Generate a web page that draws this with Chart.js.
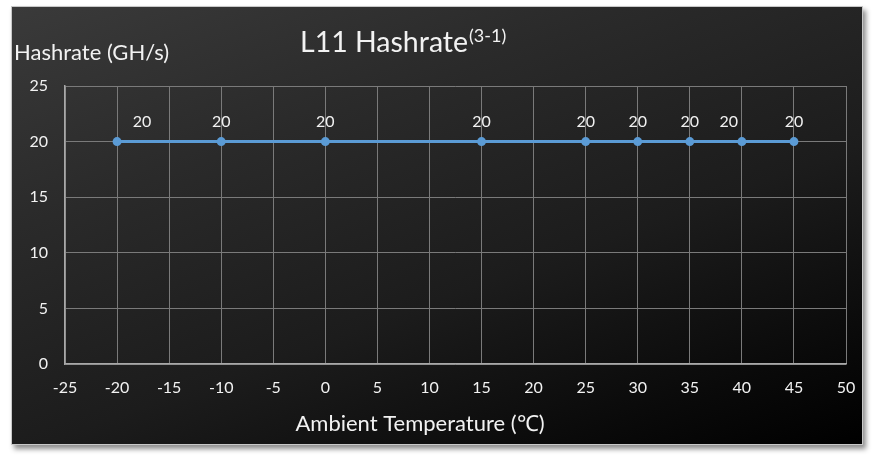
<!DOCTYPE html>
<html>
<head>
<meta charset="utf-8">
<script src="https://cdn.jsdelivr.net/npm/chart.js@4"></script>
<style>
  html, body { margin:0; padding:0; background:#fff; width:874px; height:462px; overflow:hidden; }
  #frame { position:absolute; left:11px; top:6px; width:850px; height:437px;
    border:1px solid #c8c8c8;
    background: linear-gradient(160deg, #3a3a3a 0%, #2a2a2a 30%, #1c1c1c 60%, #0a0a0a 85%, #000 100%);
    box-shadow: 3px 4px 5px rgba(0,0,0,0.45); }
  #wrap { position:absolute; left:0; top:0; width:874px; height:462px; }
</style>
</head>
<body>
<div id="frame"></div>
<div id="wrap"><canvas id="c" width="874" height="462"></canvas></div>
<script>
const temperatures = [-20, -10, 0, 15, 25, 30, 35, 40, 45];
const hashrates = [20, 20, 20, 20, 20, 20, 20, 20, 20];
const xTicks = { min: -25, max: 50, step: 5 };
const yTicks = { min: 0, max: 25, step: 5 };
const chartTitle = 'L11 Hashrate';
const chartTitleSup = '(3-1)';
const yTitle = 'Hashrate (GH/s)';
const xTitle = 'Ambient Temperature (℃)';

const FONT = 'Lato, "Open Sans", sans-serif';

const textPlugin = {
  id: 'texts',
  afterDraw(chart) {
    const ctx = chart.ctx;
    ctx.save();
    ctx.fillStyle = '#f2f2f2';
    ctx.textBaseline = 'alphabetic';
    // main title
    ctx.font = '28.5px ' + FONT;
    ctx.textAlign = 'left';
    const tx = 300;
    ctx.fillText(chartTitle, tx, 52);
    const w = ctx.measureText(chartTitle).width;
    ctx.font = '18px ' + FONT;
    ctx.fillText(chartTitleSup, tx + w + 1, 42);
    // y title
    ctx.font = '22px ' + FONT;
    ctx.fillText(yTitle, 14, 60);
    // x title
    ctx.textAlign = 'center';
    ctx.font = '22px ' + FONT;
    ctx.fillText(xTitle, 420, 431);
    ctx.restore();
  }
};

const labelPlugin = {
  id: 'pointLabels',
  afterDatasetsDraw(chart, args, opts) {
    const ctx = chart.ctx;
    const meta = chart.getDatasetMeta(0);
    const shifts = opts.shifts || {};
    ctx.save();
    ctx.fillStyle = '#f2f2f2';
    ctx.font = '16px ' + FONT;
    ctx.textAlign = 'center';
    ctx.textBaseline = 'middle';
    meta.data.forEach((pt, i) => {
      const dx = shifts[i] || 0;
      ctx.fillText(String(chart.data.datasets[0].data[i].y), pt.x + dx, pt.y - 20);
    });
    ctx.restore();
  }
};

new Chart(document.getElementById('c'), {
  type: 'line',
  data: {
    datasets: [{
      data: temperatures.map((t, i) => ({ x: t, y: hashrates[i] })),
      borderColor: '#5b9bd5',
      backgroundColor: '#5b9bd5',
      borderWidth: 3,
      pointRadius: 4.5,
      pointHoverRadius: 4.5,
      pointBorderWidth: 0,
      tension: 0,
      fill: false
    }]
  },
  options: {
    responsive: false,
    animation: false,
    events: [],
    layout: { padding: { left: 0, top: 86, right: 28, bottom: 0 } },
    plugins: {
      legend: { display: false },
      tooltip: { enabled: false },
      title: { display: false },
      pointLabels: { shifts: { 0: 25, 7: -13 } }
    },
    scales: {
      x: {
        type: 'linear',
        min: xTicks.min, max: xTicks.max,
        ticks: { stepSize: xTicks.step, color: '#f2f2f2', font: { family: FONT, size: 16 }, padding: 14, maxRotation: 0 },
        grid: { color: '#7a7a7a', lineWidth: 1, drawTicks: false },
        border: { color: '#a8a8a8', width: 1.5 },
        afterFit(s) { s.height = 98; }
      },
      y: {
        min: yTicks.min, max: yTicks.max,
        ticks: { stepSize: yTicks.step, color: '#f2f2f2', font: { family: FONT, size: 16 }, padding: 17 },
        grid: { color: '#7a7a7a', lineWidth: 1, drawTicks: false },
        border: { color: '#a8a8a8', width: 1.5 },
        afterFit(s) { s.width = 65; }
      }
    }
  },
  plugins: [textPlugin, labelPlugin]
});
</script>
</body>
</html>
